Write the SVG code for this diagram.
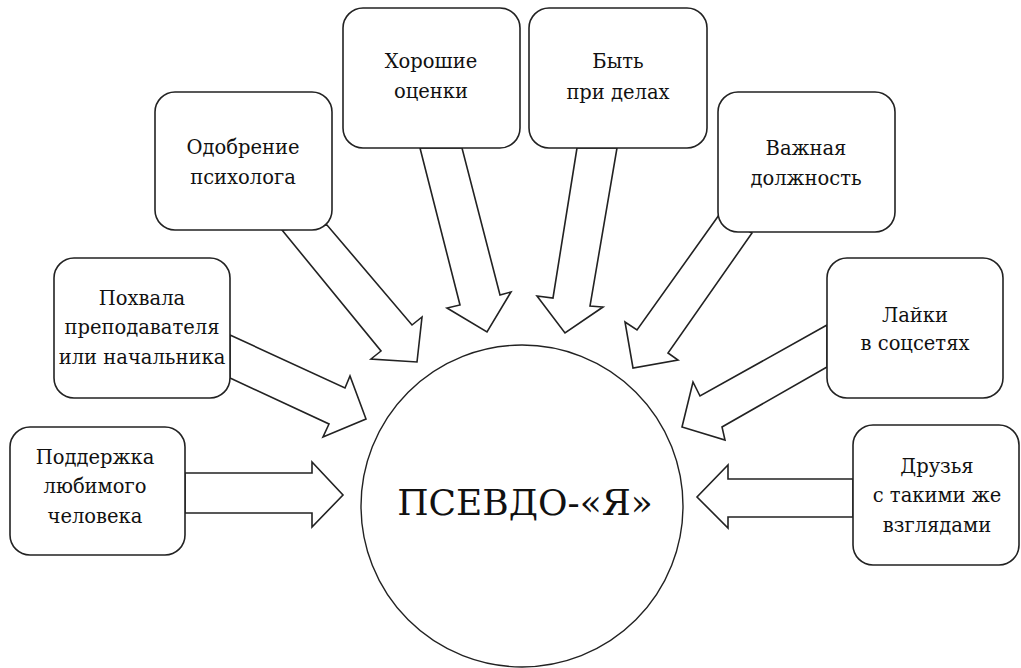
<svg xmlns="http://www.w3.org/2000/svg" width="1021" height="668" viewBox="0 0 1021 668">
<style>
.box{fill:#fff;stroke:#222;stroke-width:1.6}
.arr{fill:#fff;stroke:#222;stroke-width:1.6;stroke-linejoin:miter}
.t{font-family:"DejaVu Serif","Liberation Serif",serif;font-size:19.5px;fill:#111;text-anchor:middle}
.c{font-family:"DejaVu Serif","Liberation Serif",serif;font-size:36px;fill:#111;text-anchor:middle}
</style>
<rect width="1021" height="668" fill="#fff"/>
<g id="connectors">
<polygon class="arr" points="185,473 312,473 312,462 343,495 312,527 312,513 185,513"/>
<polygon class="arr" points="230,335 345,388 350,376 366,419 323,437 329,424 230,378"/>
<polygon class="arr" points="282,230 381,351 371,359 417,362 422,317 412,325 327,225"/>
<polygon class="arr" points="420,148 460,305 447,308 487,332 511,292 500,295 462,148"/>
<polygon class="arr" points="577,148 553,298 537,296 565,333 603,307 590,306 617,148"/>
<polygon class="arr" points="719,215 637,330 625,322 633,368 678,360 668,353 752,233"/>
<polygon class="arr" points="827,325 700,396 693,382 682,427 725,440 722,427 827,367"/>
<polygon class="arr" points="853,479 728,479 728,465 697,497 728,528 728,517 853,517"/>
</g>
<g id="center">
<circle cx="522" cy="506" r="161" fill="#fff" stroke="#222" stroke-width="1.4"/>
<text class="c" x="525" y="515">ПСЕВДО-«Я»</text>
</g>
<g id="n1">
<rect class="box" x="10" y="427" width="175" height="128" rx="20"/>
<text class="t" x="95" y="464">Поддержка</text>
<text class="t" x="95" y="493">любимого</text>
<text class="t" x="95" y="523">человека</text>
</g>
<g id="n2">
<rect class="box" x="54" y="258" width="176" height="140" rx="20"/>
<text class="t" x="142" y="305">Похвала</text>
<text class="t" x="142" y="334">преподавателя</text>
<text class="t" x="142" y="364">или начальника</text>
</g>
<g id="n3">
<rect class="box" x="155" y="92" width="177" height="138" rx="20"/>
<text class="t" x="243" y="154">Одобрение</text>
<text class="t" x="243" y="184">психолога</text>
</g>
<g id="n4">
<rect class="box" x="343" y="8" width="177" height="140" rx="20"/>
<text class="t" x="431" y="68">Хорошие</text>
<text class="t" x="431" y="98">оценки</text>
</g>
<g id="n5">
<rect class="box" x="529" y="8" width="178" height="140" rx="20"/>
<text class="t" x="618" y="68">Быть</text>
<text class="t" x="618" y="99">при делах</text>
</g>
<g id="n6">
<rect class="box" x="718" y="92" width="177" height="140" rx="20"/>
<text class="t" x="806" y="155">Важная</text>
<text class="t" x="806" y="185">должность</text>
</g>
<g id="n7">
<rect class="box" x="827" y="258" width="176" height="140" rx="20"/>
<text class="t" x="915" y="322">Лайки</text>
<text class="t" x="915" y="350">в соцсетях</text>
</g>
<g id="n8">
<rect class="box" x="853" y="425" width="166" height="140" rx="20"/>
<text class="t" x="937" y="473">Друзья</text>
<text class="t" x="937" y="502">с такими же</text>
<text class="t" x="937" y="532">взглядами</text>
</g>
</svg>
